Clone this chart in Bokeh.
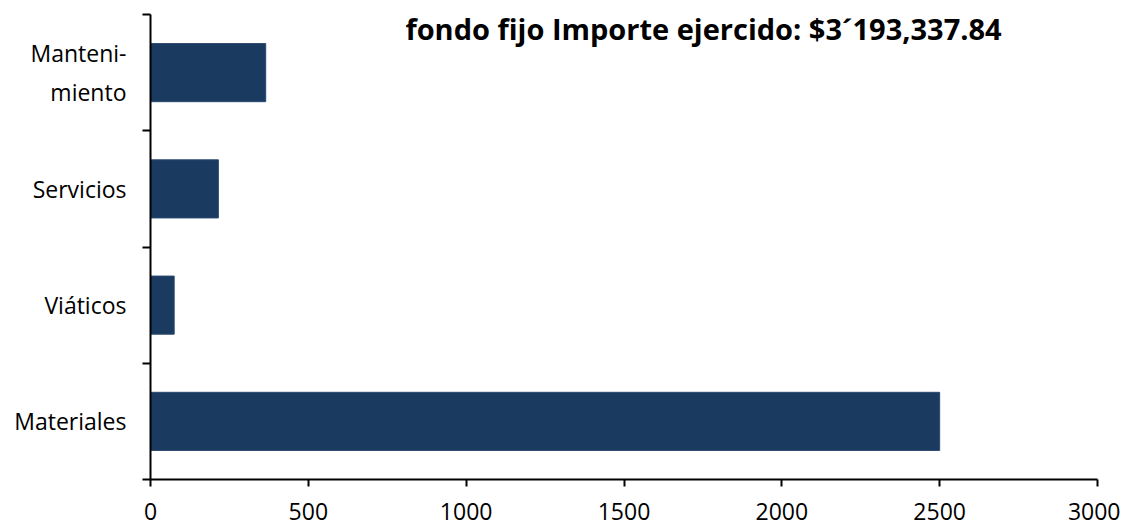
from bokeh.plotting import figure
from bokeh.models import FixedTicker, Label, Range1d
from bokeh.embed import file_html
from bokeh.resources import INLINE

categories = ["Materiales", "Viáticos", "Servicios", "Mantenimiento"]
category_labels = ["Materiales", "Viáticos", "Servicios", "Manteni-\nmiento"]
values = [2500, 75, 215, 365]
x_ticks = [0, 500, 1000, 1500, 2000, 2500, 3000]
title_text = "fondo fijo Importe ejercido: $3´193,337.84"

FONT = "Open Sans"
ypos = [i + 0.5 for i in range(len(categories))]

p = figure(width=1120, height=528, output_backend="svg", toolbar_location=None,
           x_range=Range1d(0, 3000), y_range=Range1d(0, len(categories)),
           min_border_left=150, min_border_right=23, min_border_top=14, min_border_bottom=49)
p.outline_line_color = None
p.grid.grid_line_color = None
p.background_fill_color = "white"
p.border_fill_color = "white"

p.hbar(y=ypos, right=values, left=0, height=0.5, fill_color="#1b3a60", line_color="#2c4a72", line_width=1)

# x axis
xa = p.xaxis[0]
xa.ticker = FixedTicker(ticks=x_ticks, minor_ticks=[])
xa.axis_line_width = 2
xa.axis_line_color = "black"
xa.major_tick_line_width = 2
xa.major_tick_in = 0
xa.major_tick_out = 7
xa.minor_tick_line_color = None
xa.major_label_text_font = FONT
xa.major_label_text_font_size = "23px"
xa.major_label_text_color = "black"
xa.major_label_text_baseline = "middle"
xa.major_label_standoff = 16

# y axis
ya = p.yaxis[0]
ya.ticker = FixedTicker(ticks=ypos, minor_ticks=list(range(len(categories) + 1)))
ya.major_label_overrides = {y: lab for y, lab in zip(ypos, category_labels)}
ya.axis_line_width = 2
ya.axis_line_color = "black"
ya.major_tick_line_color = None
ya.major_tick_in = 0
ya.major_tick_out = 0
ya.minor_tick_line_width = 2
ya.minor_tick_line_color = "black"
ya.minor_tick_in = 0
ya.minor_tick_out = 8
ya.major_label_text_font = FONT
ya.major_label_text_font_size = "23px"
ya.major_label_text_color = "black"
ya.major_label_standoff = 16

title = Label(x=1752, y=451, x_units="data", y_units="screen", text=title_text,
              text_font=FONT, text_font_style="bold", text_font_size="29px",
              text_align="center", text_baseline="middle", text_color="black")
p.add_layout(title)

open("out.html", "w").write(file_html(p, INLINE))
